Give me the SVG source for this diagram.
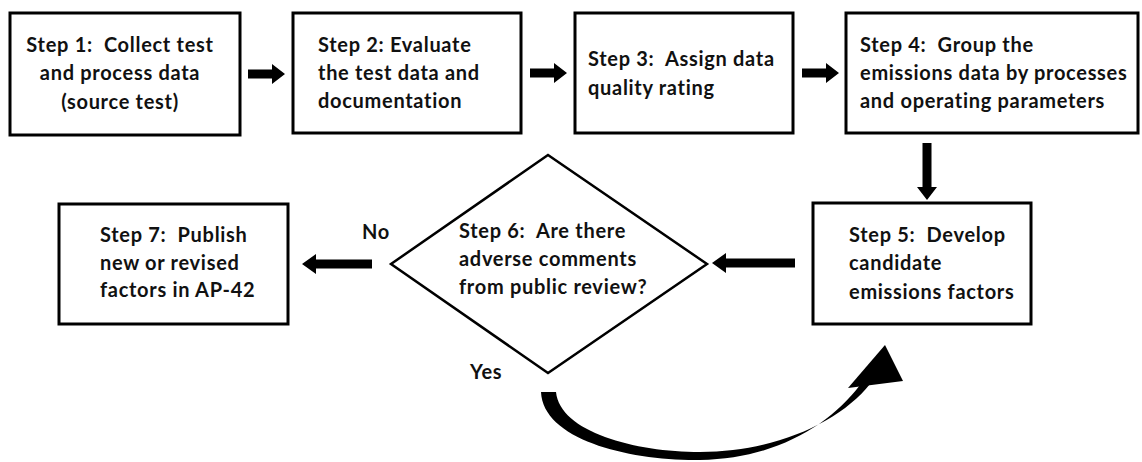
<svg xmlns="http://www.w3.org/2000/svg" width="1142" height="462" viewBox="0 0 1142 462">
<style>
.box{fill:#fff;stroke:#000;stroke-width:3}
.dia{fill:#fff;stroke:#000;stroke-width:2.5}
.arr{fill:#000;stroke:none}
text{font-family:Lato,"Open Sans","Liberation Sans",sans-serif;font-weight:bold;font-size:20px;letter-spacing:0.7px;fill:#111;white-space:pre}
.c{text-anchor:middle}
</style>
<rect width="1142" height="462" fill="#fff"/>
<g id="connectors">
<path class="arr" d="M248 69.5H272V64L285 74L272 84V78.5H248Z"/>
<path class="arr" d="M530 68.5H554V63L567 73L554 83V77.5H530Z"/>
<path class="arr" d="M802 68.5H826V63L839 73L826 83V77.5H802Z"/>
<path class="arr" d="M922.5 143V187H917L927 200L937 187H931.5V143Z"/>
<path class="arr" d="M795 258.5H726V253L712 263L726 273V267.5H795Z"/>
<path class="arr" d="M372 259.5H316V254L302 264L316 274V268.5H372Z"/>
<path class="arr" d="M541 392C543 440 630 461 700 460C775 459 830 425 860 385L870 384C840 422 775 452 700 452C635 452 560 432 556 392Z"/>
<path class="arr" d="M848 388L885 345L903 381Z"/>
</g>
<g id="label-no"><text x="362" y="239">No</text></g>
<g id="label-yes"><text x="470" y="379">Yes</text></g>
<g id="step1">
<rect class="box" x="10" y="13" width="230" height="122"/>
<text class="c" x="120" y="52" xml:space="preserve">Step 1:  Collect test</text>
<text class="c" x="120" y="80">and process data</text>
<text class="c" x="120" y="109">(source test)</text>
</g>
<g id="step2">
<rect class="box" x="293" y="13" width="228" height="120"/>
<text x="318" y="52">Step 2: Evaluate</text>
<text x="318" y="80">the test data and</text>
<text x="318" y="108">documentation</text>
</g>
<g id="step3">
<rect class="box" x="575" y="13" width="218" height="120"/>
<text x="588" y="66" xml:space="preserve">Step 3:  Assign data</text>
<text x="588" y="95">quality rating</text>
</g>
<g id="step4">
<rect class="box" x="846" y="13" width="292" height="120"/>
<text x="860" y="52" xml:space="preserve">Step 4:  Group the</text>
<text x="860" y="80">emissions data by processes</text>
<text x="860" y="108">and operating parameters</text>
</g>
<g id="step5">
<rect class="box" x="813" y="203" width="218" height="121"/>
<text x="849" y="242" xml:space="preserve">Step 5:  Develop</text>
<text x="849" y="270">candidate</text>
<text x="849" y="299">emissions factors</text>
</g>
<g id="step6">
<polygon class="dia" points="548,155 707,264 548,373 391,264"/>
<text x="459" y="238" xml:space="preserve">Step 6:  Are there</text>
<text x="459" y="266">adverse comments</text>
<text x="459" y="294">from public review?</text>
</g>
<g id="step7">
<rect class="box" x="59" y="204" width="229" height="120"/>
<text x="100" y="242" xml:space="preserve">Step 7:  Publish</text>
<text x="100" y="270">new or revised</text>
<text x="100" y="297">factors in AP-42</text>
</g>
</svg>
